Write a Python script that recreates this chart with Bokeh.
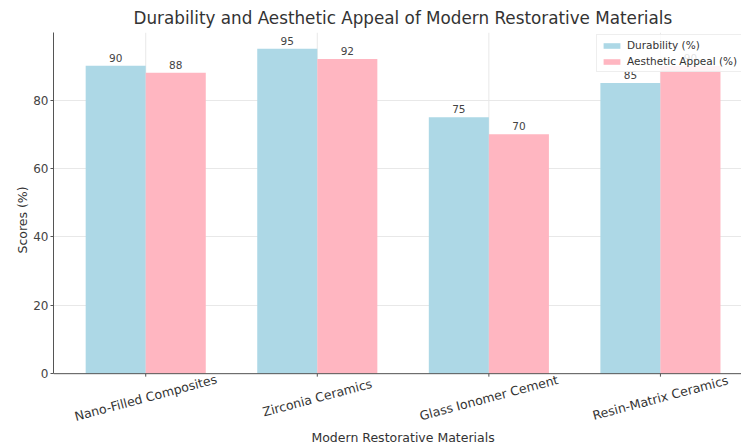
import math
from bokeh.plotting import figure
from bokeh.layouts import row
from bokeh.models import ColumnDataSource, Range1d, FixedTicker, Legend, LegendItem, LabelSet, Label, Span
from bokeh.core.properties import value
from bokeh.embed import file_html
from bokeh.resources import INLINE

materials = ["Nano-Filled Composites", "Zirconia Ceramics", "Glass Ionomer Cement", "Resin-Matrix Ceramics"]
durability = [90, 95, 75, 85]
aesthetic = [88, 92, 70, 90]
y_ticks = [0, 20, 40, 60, 80]

FONT = "DejaVu Sans"
bw = 0.35
n = len(materials)
idx = list(range(n))
y_top = 99.75
y_bottom = -21.0          # room below the baseline for the rotated category labels
px_per_unit = 3.43

src_d = ColumnDataSource(dict(x=[i - bw / 2 for i in idx], top=durability, lab=[str(v) for v in durability]))
src_a = ColumnDataSource(dict(x=[i + bw / 2 for i in idx], top=aesthetic, lab=[str(v) for v in aesthetic]))
src_c = ColumnDataSource(dict(x=idx, base=[0] * n, gtop=[y_top] * n,
                              tick=[-3 / px_per_unit] * n, name=materials))

# ---- main plot ----
p = figure(width=711, height=445, output_backend="svg", toolbar_location=None,
           x_range=Range1d(-0.5375, 3.4725), y_range=Range1d(y_bottom, y_top), x_axis_location=None,
           min_border_left=22, min_border_right=0, min_border_top=5, min_border_bottom=0)
p.title.text = "Durability and Aesthetic Appeal of Modern Restorative Materials"
p.title.align = "left"
p.title.offset = 80
p.title.text_font = FONT
p.title.text_font_size = "16.8px"
p.title.text_font_style = "normal"
p.title.text_color = "#333333"

# vertical grid lines only above the baseline
p.xgrid.visible = False
p.segment(x0="x", y0="base", x1="x", y1="gtop", source=src_c, line_color="#e8e8e8", line_width=1,
          level="underlay")
p.ygrid.ticker = FixedTicker(ticks=y_ticks)
p.ygrid.grid_line_color = "#e8e8e8"

r1 = p.vbar(x="x", top="top", width=bw, source=src_d, fill_color="#ADD8E6", line_color=None)
r2 = p.vbar(x="x", top="top", width=bw, source=src_a, fill_color="#FFB6C1", line_color=None)

for s in (src_d, src_a):
    p.add_layout(LabelSet(x="x", y="top", text="lab", source=s, text_align="center", y_offset=4,
                          text_font_size="10.5px", text_font=value(FONT), text_color="#444444"))

# x axis line, ticks, category labels and title
p.add_layout(Span(location=0, dimension="width", line_color="#555555", line_width=1))
p.segment(x0="x", y0="base", x1="x", y1="tick", source=src_c, line_color="#555555", line_width=1)
p.add_layout(LabelSet(x="x", y="base", text="name", source=src_c, text_align="center",
                      text_baseline="middle", angle=0.26, y_offset=-24, text_font=value(FONT),
                      text_font_size="12.5px", text_color="#333333"))
p.add_layout(Label(x=(n - 1) / 2, y=0, y_offset=-64, text="Modern Restorative Materials",
                   text_align="center", text_baseline="middle", text_font=FONT,
                   text_font_size="12.5px", text_color="#333333"))

p.yaxis.ticker = FixedTicker(ticks=y_ticks)
p.yaxis.bounds = (0, y_top)
p.yaxis.major_label_text_font = FONT
p.yaxis.major_label_text_font_size = "12px"
p.yaxis.major_label_text_color = "#444444"
p.yaxis.axis_line_color = "#555555"
p.yaxis.major_tick_line_color = "#555555"
p.yaxis.minor_tick_line_color = None
p.yaxis.major_tick_out = 3
p.yaxis.major_tick_in = 0
p.yaxis.major_label_standoff = 2
p.outline_line_color = None

legend = Legend(items=[LegendItem(label="Durability (%)", renderers=[r1]),
                       LegendItem(label="Aesthetic Appeal (%)", renderers=[r2])],
                location=(543, 373), label_text_font=FONT, label_text_font_size="10.5px",
                label_text_color="#333333", glyph_height=7, glyph_width=21, spacing=4,
                padding=4, margin=0, border_line_color="#dddddd", background_fill_alpha=0.85,
                label_height=12, label_standoff=5)
p.add_layout(legend)

# ---- y-axis title strip ----
q = figure(width=30, height=445, output_backend="svg", toolbar_location=None,
           x_range=Range1d(0, 30), y_range=Range1d(0, 445), x_axis_location=None, y_axis_location=None,
           min_border_left=0, min_border_right=0, min_border_top=0, min_border_bottom=0)
q.grid.visible = False
q.outline_line_color = None
q.add_layout(Label(x=22, y=243, text="Scores (%)", angle=math.pi / 2, text_align="center",
                   text_baseline="middle", text_font=FONT, text_font_size="12.5px", text_color="#333333"))

open("out.html", "w").write(file_html(row(q, p, spacing=0), INLINE))
